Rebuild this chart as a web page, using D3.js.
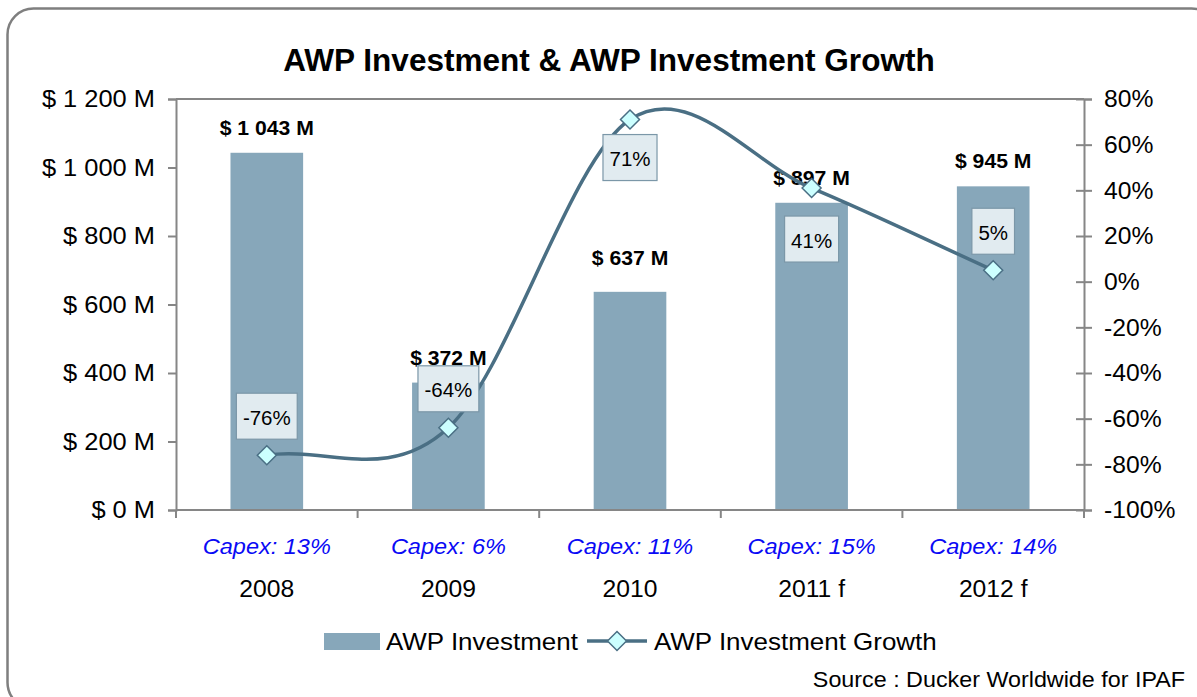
<!DOCTYPE html>
<html>
<head>
<meta charset="utf-8">
<script src="https://cdn.jsdelivr.net/npm/d3@7"></script>
<style>
  html, body { margin: 0; padding: 0; background: #fff; }
  svg { display: block; font-family: "Liberation Sans", Arial, sans-serif; }
</style>
</head>
<body>
<svg id="chart" width="1197" height="697"></svg>
<script>
// ---- data ----
const categories = ["2008", "2009", "2010", "2011 f", "2012 f"];
const capexLabels = ["Capex: 13%", "Capex: 6%", "Capex: 11%", "Capex: 15%", "Capex: 14%"];
const investment = [1043, 372, 637, 897, 945];        // $ M
const growth = [-76, -64, 71, 41, 5];                 // %
const leftTicks = [0, 200, 400, 600, 800, 1000, 1200];
const rightTicks = [-100, -80, -60, -40, -20, 0, 20, 40, 60, 80];
const seriesNames = ["AWP Investment", "AWP Investment Growth"];
const titleText = "AWP Investment & AWP Investment Growth";
const sourceText = "Source : Ducker Worldwide for IPAF";

// ---- layout / style ----
const plot = { left: 176, right: 1084, top: 99, bottom: 510 };
const SX = 1.06; // slight horizontal text stretch of the original picture
const barColor = "#87a7ba";
const lineColor = "#4a6f84";
const markerFill = "#ccffff";
const axisColor = "#868686";
const growthLabelPos = ["above", "above", "below", "below2", "above"];
const barLabelExtraLift = [0, 0, 9, 0, 0];

const svg = d3.select("#chart");
const locale = d3.formatLocale({ decimal: ".", thousands: " ", grouping: [3], currency: ["$", ""] });
const fmtNum = locale.format(",d");
const money = v => "$ " + fmtNum(v) + " M";

function stext(g, x, y, str, opts) {
  const sx = opts.sx || SX;
  return g.append("text")
    .attr("transform", `translate(${x},${y}) scale(${sx},1)`)
    .attr("text-anchor", opts.anchor || "middle")
    .attr("font-size", opts.size)
    .attr("font-weight", opts.weight || "normal")
    .attr("font-style", opts.style || "normal")
    .attr("fill", opts.fill || "#000")
    .attr("dominant-baseline", opts.baseline || "auto")
    .text(str);
}

// outer rounded border
svg.append("rect")
  .attr("x", 7.5).attr("y", 8.5).attr("width", 1210).attr("height", 700)
  .attr("rx", 26).attr("ry", 26)
  .attr("fill", "none").attr("stroke", "#7f7f7f").attr("stroke-width", 2.5);

// title
stext(svg, 609, 71, titleText, { size: 30.5, weight: "bold", sx: 1.035 });

// scales
const x = d3.scaleBand().domain(categories).range([plot.left, plot.right])
  .paddingInner(0.6).paddingOuter(0.3);
const yL = d3.scaleLinear().domain([0, 1200]).range([plot.bottom, plot.top]);
const yR = d3.scaleLinear().domain([-100, 80]).range([plot.bottom, plot.top]);

// plot frame (top border)
svg.append("line").attr("x1", plot.left).attr("x2", plot.right)
  .attr("y1", plot.top).attr("y2", plot.top)
  .attr("stroke", axisColor).attr("stroke-width", 2);

// bars
svg.append("g").selectAll("rect").data(investment).join("rect")
  .attr("x", (d, i) => x(categories[i]))
  .attr("width", x.bandwidth())
  .attr("y", d => yL(d))
  .attr("height", d => yL(0) - yL(d))
  .attr("fill", barColor);

// left axis
const axL = svg.append("g").attr("transform", `translate(${plot.left},0)`)
  .call(d3.axisLeft(yL).tickValues(leftTicks).tickSize(8).tickFormat(() => ""));
axL.selectAll("path,line").attr("stroke", axisColor).attr("stroke-width", 2);
leftTicks.forEach(t => stext(svg, 155, yL(t), money(t), { size: 24, anchor: "end", baseline: "central" }));

// right axis
const axR = svg.append("g").attr("transform", `translate(${plot.right},0)`)
  .call(d3.axisRight(yR).tickValues(rightTicks).tickSize(8).tickFormat(() => ""));
axR.selectAll("path,line").attr("stroke", axisColor).attr("stroke-width", 2);
axR.selectAll(".tick line").attr("x1", -8);
rightTicks.forEach(t => stext(svg, 1104, yR(t), t + "%", { size: 23.3, anchor: "start", baseline: "central" }));

// bottom axis
svg.append("line").attr("x1", plot.left).attr("x2", plot.right)
  .attr("y1", plot.bottom).attr("y2", plot.bottom)
  .attr("stroke", axisColor).attr("stroke-width", 2);
const bounds = categories.map(c => x(c) - (x.step() - x.bandwidth()) / 2).concat([plot.right]);
svg.append("g").selectAll("line").data(bounds).join("line")
  .attr("x1", d => d).attr("x2", d => d)
  .attr("y1", plot.bottom).attr("y2", plot.bottom + 8)
  .attr("stroke", axisColor).attr("stroke-width", 2);

const cx = c => x(c) + x.bandwidth() / 2;
categories.forEach((c, i) => {
  stext(svg, cx(c), 554, capexLabels[i], { size: 22.2, style: "italic", fill: "#0a0af5" });
  stext(svg, cx(c), 597, c, { size: 23.3 });
});

// bar value labels
investment.forEach((v, i) => {
  stext(svg, cx(categories[i]), yL(v) - 18 - barLabelExtraLift[i], money(v), { size: 20, weight: "bold" });
});

// growth line: Excel-like smoothed Bezier through the points
const pts = growth.map((g, i) => [cx(categories[i]), yR(g)]);
function smoothPath(p) {
  const path = d3.path();
  path.moveTo(p[0][0], p[0][1]);
  const n = p.length;
  const tan = p.map((q, i) => {
    if (i === 0) return [(p[1][0] - q[0]) / 3, (p[1][1] - q[1]) / 3];
    if (i === n - 1) return [(q[0] - p[i - 1][0]) / 3, (q[1] - p[i - 1][1]) / 3];
    return [(p[i + 1][0] - p[i - 1][0]) / 6, (p[i + 1][1] - p[i - 1][1]) / 6];
  });
  for (let i = 0; i < n - 1; i++) {
    path.bezierCurveTo(
      p[i][0] + tan[i][0], p[i][1] + tan[i][1],
      p[i + 1][0] - tan[i + 1][0], p[i + 1][1] - tan[i + 1][1],
      p[i + 1][0], p[i + 1][1]);
  }
  return path.toString();
}
svg.append("path")
  .attr("d", smoothPath(pts))
  .attr("fill", "none").attr("stroke", lineColor).attr("stroke-width", 3.5);

const diamond = (r) => `M0,${-r}L${r},0L0,${r}L${-r},0Z`;
svg.append("g").selectAll("path").data(pts).join("path")
  .attr("transform", d => `translate(${d[0]},${d[1]})`)
  .attr("d", diamond(9.5))
  .attr("fill", markerFill).attr("stroke", lineColor).attr("stroke-width", 1.5);

// growth labels in boxes
growth.forEach((g, i) => {
  const [px, py] = pts[i];
  const grp = svg.append("g");
  const t = stext(grp, 0, 0, g + "%", { size: 20.5, baseline: "central", sx: 1 });
  const bw = t.node().getBBox().width + 13;
  const bh = 46;
  let top;
  if (growthLabelPos[i] === "above") top = py - 16 - bh;
  else if (growthLabelPos[i] === "below") top = py + 15;
  else top = py + 28;
  grp.insert("rect", "text")
    .attr("x", px - bw / 2).attr("y", top).attr("width", bw).attr("height", bh)
    .attr("fill", "#e1ebf0").attr("stroke", "#7b97a8").attr("stroke-width", 1.2);
  t.attr("transform", `translate(${px},${top + bh / 2 + 1})`);
});

// legend
svg.append("rect").attr("x", 324).attr("y", 633).attr("width", 56).attr("height", 17).attr("fill", barColor);
stext(svg, 386, 650, seriesNames[0], { size: 24.5, anchor: "start" });
svg.append("line").attr("x1", 587).attr("x2", 647).attr("y1", 641).attr("y2", 641)
  .attr("stroke", lineColor).attr("stroke-width", 3.5);
svg.append("path").attr("transform", "translate(617,641)").attr("d", diamond(9.5))
  .attr("fill", markerFill).attr("stroke", lineColor).attr("stroke-width", 1.5);
stext(svg, 654, 650, seriesNames[1], { size: 24.5, anchor: "start" });

// source
stext(svg, 1185, 687, sourceText, { size: 22, anchor: "end" });
</script>
</body>
</html>
